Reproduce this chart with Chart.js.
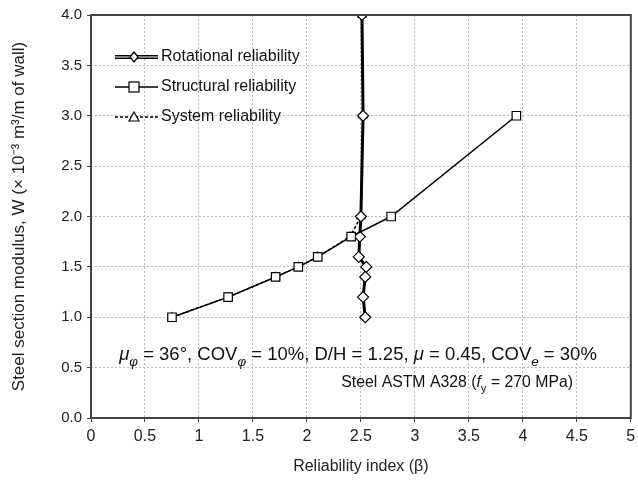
<!DOCTYPE html>
<html lang="en">
  <head>
    <meta charset="UTF-8" />
    <title>Reliability index vs steel section modulus</title>
    <script src="https://cdn.jsdelivr.net/npm/chart.js@4.4.1/dist/chart.umd.min.js"></script>
    <style>
      body {
        margin: 0;
        background-color: #ffffff;
      }

      .chart-container {
        width: 638px;
        height: 484px;
        position: relative;
      }
    </style>
  </head>
  <body>
    <div class="chart-container">
      <canvas id="relChart"></canvas>
    </div>

    <script>
      // W values (x 10^-3 m3/m of wall)
      const rotW = [1.0, 1.2, 1.4, 1.5, 1.6, 1.8, 2.0, 3.0, 4.0];
      const rotBeta = [2.54, 2.52, 2.54, 2.55, 2.48, 2.49, 2.5, 2.52, 2.51];

      const structW = [1.0, 1.2, 1.4, 1.5, 1.6, 1.8, 2.0, 3.0];
      const structBeta = [0.75, 1.27, 1.71, 1.92, 2.1, 2.41, 2.78, 3.94];

      const sysW = [1.0, 1.2, 1.4, 1.5, 1.6, 1.8, 2.0, 3.0, 4.0];
      const sysBeta = [0.75, 1.27, 1.71, 1.92, 2.1, 2.4, 2.5, 2.52, 2.51];

      const legendLabels = [
        "Rotational reliability",
        "Structural reliability",
        "System reliability",
      ];

      const FONT = "'Liberation Sans', Arial, sans-serif";

      const toPoints = (xs, ys) => xs.map((x, i) => ({ x: x, y: ys[i] }));

      // draws text made of pieces (normal / italic / subscript)
      function drawRich(ctx, parts, x, y, size, align) {
        const fontFor = (p) =>
          (p.italic ? "italic " : "") + (p.sub ? size * 0.72 : size) + "px " + FONT;
        let total = 0;
        parts.forEach((p) => {
          ctx.font = fontFor(p);
          total += ctx.measureText(p.t).width;
        });
        let cx = x;
        if (align === "center") cx = x - total / 2;
        if (align === "right") cx = x - total;
        ctx.textAlign = "left";
        ctx.textBaseline = "alphabetic";
        parts.forEach((p) => {
          ctx.font = fontFor(p);
          ctx.fillText(p.t, cx, p.sub ? y + size * 0.3 : y);
          cx += ctx.measureText(p.t).width;
        });
      }

      const extras = {
        id: "extras",
        afterDraw(chart) {
          const ctx = chart.ctx;
          const a = chart.chartArea;
          ctx.save();

          // plot frame
          ctx.strokeStyle = "#444";
          ctx.lineWidth = 2;
          ctx.strokeRect(a.left, a.top, a.right - a.left, a.bottom - a.top);

          // legend
          const rows = [57, 87, 117];
          const x0 = 115, x1 = 158, xm = 134;
          ctx.strokeStyle = "#000";
          ctx.fillStyle = "#fff";
          // rotational: double line with diamond
          ctx.lineWidth = 4;
          ctx.beginPath();
          ctx.moveTo(x0, rows[0]);
          ctx.lineTo(x1, rows[0]);
          ctx.stroke();
          ctx.strokeStyle = "#fff";
          ctx.lineWidth = 1.2;
          ctx.beginPath();
          ctx.moveTo(x0, rows[0]);
          ctx.lineTo(x1, rows[0]);
          ctx.stroke();
          ctx.strokeStyle = "#000";
          ctx.lineWidth = 1.3;
          ctx.beginPath();
          ctx.moveTo(xm, rows[0] - 5);
          ctx.lineTo(xm + 4, rows[0]);
          ctx.lineTo(xm, rows[0] + 5);
          ctx.lineTo(xm - 4, rows[0]);
          ctx.closePath();
          ctx.fill();
          ctx.stroke();
          // structural: solid line with square
          ctx.lineWidth = 1.5;
          ctx.beginPath();
          ctx.moveTo(x0, rows[1]);
          ctx.lineTo(x1, rows[1]);
          ctx.stroke();
          ctx.lineWidth = 1.2;
          ctx.fillRect(xm - 5, rows[1] - 5, 10, 10);
          ctx.strokeRect(xm - 5, rows[1] - 5, 10, 10);
          // system: dashed line with triangle
          ctx.setLineDash([3, 2]);
          ctx.lineWidth = 1.5;
          ctx.beginPath();
          ctx.moveTo(x0, rows[2]);
          ctx.lineTo(x1, rows[2]);
          ctx.stroke();
          ctx.setLineDash([]);
          ctx.lineWidth = 1.2;
          ctx.beginPath();
          ctx.moveTo(xm, rows[2] - 5);
          ctx.lineTo(xm + 5, rows[2] + 4);
          ctx.lineTo(xm - 5, rows[2] + 4);
          ctx.closePath();
          ctx.fill();
          ctx.stroke();

          ctx.fillStyle = "#111";
          ctx.font = "16px " + FONT;
          ctx.textAlign = "left";
          ctx.textBaseline = "middle";
          legendLabels.forEach((t, i) => ctx.fillText(t, 161, rows[i]));

          // annotations
          drawRich(
            ctx,
            [
              { t: "\u03bc", italic: true },
              { t: "\u03c6", italic: true, sub: true },
              { t: " = 36\u00b0, COV" },
              { t: "\u03c6", italic: true, sub: true },
              { t: " = 10%, D/H = 1.25, " },
              { t: "\u03bc", italic: true },
              { t: " = 0.45, COV" },
              { t: "e", italic: true, sub: true },
              { t: " = 30%" },
            ],
            358,
            360,
            18.5,
            "center"
          );
          drawRich(
            ctx,
            [
              { t: "Steel ASTM A328 (" },
              { t: "f", italic: true },
              { t: "y", sub: true },
              { t: " = 270 MPa)" },
            ],
            573,
            387,
            15.8,
            "right"
          );
          ctx.restore();
        },
      };

      const ctx = document.getElementById("relChart").getContext("2d");

      const relChart = new Chart(ctx, {
        type: "scatter",
        data: {
          datasets: [
            {
              label: "Structural reliability",
              data: toPoints(structBeta, structW),
              showLine: true,
              borderColor: "#000",
              borderWidth: 1.5,
              pointStyle: "rect",
              pointRadius: 6,
              pointBackgroundColor: "#fff",
              pointBorderColor: "#000",
              pointBorderWidth: 1.2,
            },
            {
              label: "Rotational reliability",
              data: toPoints(rotBeta, rotW),
              showLine: true,
              borderColor: "#000",
              borderWidth: 3,
              pointStyle: "rectRot",
              pointRadius: 5.5,
              pointBackgroundColor: "#fff",
              pointBorderColor: "#000",
              pointBorderWidth: 1.2,
            },
            {
              label: "System reliability",
              data: toPoints(sysBeta, sysW),
              showLine: true,
              borderColor: "#000",
              borderWidth: 1.5,
              borderDash: [3, 2],
              pointStyle: "triangle",
              pointRadius: 4.5,
              pointBackgroundColor: "#fff",
              pointBorderColor: "#000",
              pointBorderWidth: 1.2,
            },
          ],
        },
        options: {
          responsive: true,
          maintainAspectRatio: false,
          animation: false,
          layout: {
            padding: { top: 15, right: 7, left: 9, bottom: 8 },
          },
          plugins: {
            legend: { display: false },
            tooltip: { enabled: false },
          },
          scales: {
            x: {
              type: "linear",
              min: 0,
              max: 5,
              ticks: {
                stepSize: 0.5,
                color: "#222",
                padding: 5,
                font: { family: FONT, size: 16 },
                callback: (v) => String(v),
              },
              grid: {
                color: "#bcbcbc",
                tickColor: "#444",
                tickLength: 4,
                drawTicks: true,
              },
              border: { display: false, dash: [2, 2] },
              title: {
                display: true,
                text: "Reliability index (\u03b2)",
                color: "#222",
                font: { family: FONT, size: 16 },
                padding: { top: 2, bottom: 0 },
              },
              afterFit: (scale) => {
                scale.height = 58;
                scale.paddingRight = 0;
              },
            },
            y: {
              type: "linear",
              min: 0,
              max: 4,
              ticks: {
                stepSize: 0.5,
                color: "#222",
                padding: 5,
                font: { family: FONT, size: 15 },
                callback: (v) => v.toFixed(1),
              },
              grid: {
                color: "#bcbcbc",
                tickColor: "#444",
                tickLength: 4,
              },
              border: { display: false, dash: [2, 2] },
              title: {
                display: true,
                text: "Steel section modulus, W (\u00d7 10\u207b\u00b3 m\u00b3/m of wall)",
                color: "#222",
                font: { family: FONT, size: 17 },
                padding: { top: 0, bottom: 4 },
              },
              afterFit: (scale) => {
                scale.width = 82;
              },
            },
          },
        },
        plugins: [extras],
      });
    </script>
  </body>
</html>
